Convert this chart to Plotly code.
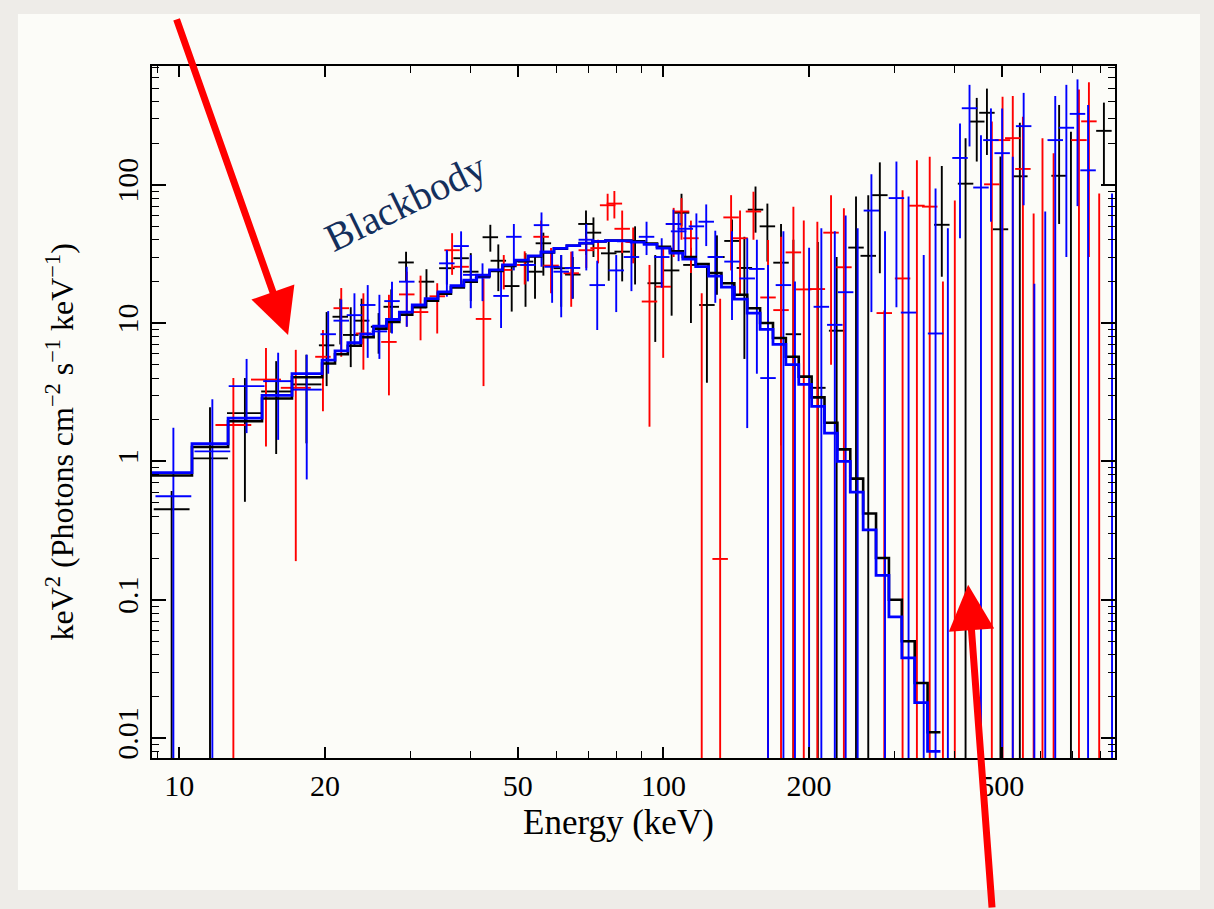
import plotly.graph_objects as go

OFF = 1e-4  # flux below the plotted range (points / error ends off-chart)

# ---------------- data: black instrument ----------------
black_E  = [9.64, 11.57, 13.66, 15.85, 18.3, 20.15, 21.5, 22.6, 23.8, 25.8, 27.4, 29.4, 32.4, 35.7, 38.2, 40.0,
            43.9, 45.6, 48.6, 51.9, 54.3, 56.5, 61.5, 65.0, 69.2, 71.7, 77.1, 82.2, 87.4, 96.2, 104, 109, 114,
            123, 129, 138.6, 147, 155, 164, 175, 185.6, 208.5, 228, 250, 265, 280, 376, 421, 444, 466, 497,
            545, 657, 695, 813]
black_F  = [0.45, 1.05, 2.23, 3.2, 3.6, 6.9, 11.1, 8.2, 10.4, 9.4, 13.1, 27.4, 19.9, 24.9, 29.4, 23.5,
            41.7, 28.2, 18.5, 27.8, 23.5, 37.7, 24.9, 22.4, 52, 45, 31.9, 32.8, 38.6, 19.4, 24, 62.7, 26.3,
            13.5, 30, 39.2, 25, 66, 50, 27.3, 8.3, 3.4, 8.8, 35.1, 30.6, 84, 51.3, 101.7, 286, 331, 47.6,
            115, 116, OFF, 245]
black_lo = [OFF, OFF, 0.51, 1.13, 1.35, 3.5, 7.0, 4.8, 7.0, 6.0, 8.5, 19.9, 12.8, 19.0, 18.0, 14.4,
            32.8, 17.0, 12.1, 13.1, 15.0, 22, 13.1, 15, 31, 30, 20.2, 20, 19, 7.3, 11.3, 50, 10,
            3.7, 16, 25, 5.5, 45, 27.8, 1.3, OFF, OFF, OFF, OFF, OFF, 22.9, 21.6, OFF, 147, 164, OFF,
            OFF, 52, OFF, 99.4]
black_hi = [0.61, 2.46, 4.0, 5.3, 5.9, 12.0, 15.0, 13.0, 15.0, 11.8, 17.5, 32.8, 24.5, 33.0, 35.0, 32.0,
            51.3, 37.0, 25.5, 32.0, 30.0, 45, 31, 30, 65, 58, 40, 38, 50, 31, 35, 86, 35,
            25.5, 43, 56, 42, 97, 73, 52, 40, 38.6, 30, 82, 84, 145, 136.5, 217, 424, 495, 160,
            280, 377, 241, 392]

# ---------------- data: red instrument ----------------
red_E  = [12.93, 15.1, 17.4, 19.8, 21.6, 24.0, 27.1, 29.5, 31.5, 34.1, 36.6, 38.2, 42.5, 46.8, 51.7, 55.9,
          58.6, 64.5, 69.3, 73.3, 76.7, 79.2, 82.2, 86.6, 93.6, 99.9, 105, 109, 114, 120, 131, 138, 144,
          153.5, 164.5, 175, 185.6, 195, 208, 222, 236, 286, 312, 334, 355, 378, 400, 477, 502, 527, 553,
          582, 607, 640, 722, 757, 795]
red_F  = [1.83, 3.9, 3.4, 5.7, 12.8, 8.4, 7.3, 16.1, 12.0, 15.6, 33.6, 25.5, 10.7, 24.2, 26.3, 42,
          26, 22.9, 33.6, 34.8, 71, 73, 48, 38.6, 14.3, 18.3, 52, 64, 41, OFF, 0.197, 58, 41,
          64, 15.3, 12.4, 32.4, 17.5, 17.6, 45, 25.3, 11.8, 21, 70.5, 69.4, OFF, OFF, 100.6, 210, 217, 130,
          OFF, OFF, OFF, 210, 287, OFF]
red_lo = [OFF, 1.28, 0.19, 2.3, 5.7, 4.6, 3.0, 9.4, 7.5, 8.4, 22.3, 18.8, 3.5, 17.5, 19.0, 30,
          16.4, 13.1, 25, 27, 55, 57, 32, 27, 1.78, 5.6, 30, 40, 23, OFF, OFF, 24, 16,
          40, OFF, OFF, OFF, OFF, OFF, 5.0, OFF, OFF, OFF, OFF, OFF, OFF, OFF, OFF, OFF, OFF, OFF,
          OFF, OFF, OFF, OFF, 30, OFF]
red_hi = [4.0, 6.6, 6.4, 8.9, 17.9, 16.4, 16.0, 23.5, 22.0, 19.4, 44.6, 35.0, 21.0, 31.0, 33.0, 55,
          34.8, 32.8, 42, 40, 86, 90, 65, 49, 26.3, 35.8, 68, 80, 55, 16.4, 15, 84, 65,
          89, 39.9, 42, 69.4, 55, 54, 84, 67.6, 12.3, 91, 150, 159, 20, 77, 286, 432, 437, 310,
          62, 217, 169, 488, 550, 86.5]

# ---------------- data: blue instrument ----------------
blue_E  = [9.72, 11.7, 13.77, 16.0, 18.33, 20.3, 21.6, 23.0, 24.5, 25.9, 27.5, 29.5, 35.7, 38.2, 40.0, 42.3,
           46.2, 49.1, 52.5, 56.0, 58.9, 61.5, 64.9, 69.3, 73.0, 79.9, 85.9, 92.3, 99.2, 104.9, 107.5, 111,
           117, 122.6, 128, 138.6, 149, 156, 164.5, 177, 187, 200, 212, 226, 238, 252, 269, 287, 303, 321,
           345, 365, 387, 410, 429, 453, 475, 501, 527, 555, 584, 615, 645, 680, 717, 754, 845]
blue_F  = [0.56, 1.18, 3.5, 3.8, 3.3, 8.3, 10.4, 11.4, 13.5, 8.7, 14.4, 19.9, 27, 36, 22.3, 21.3,
           15.7, 42, 26.3, 51, 25.5, 23.5, 25, 40, 18.8, 24, 30, 42, 30, 52, 46, 48,
           50, 54, 30, 27.8, 21, 24.6, 4.0, 18.8, OFF, OFF, 13.1, 9.7, 16.7, OFF, 65, OFF, 80, 11.9,
           OFF, 8.4, OFF, 156, 357, 95.4, 210, 169, OFF, 265, OFF, OFF, 210, 258, 325, 127, OFF]
blue_lo = [OFF, OFF, 1.6, 1.43, 0.74, 4.3, 6.2, 6.8, 5.6, 5.5, 8.4, 9.4, 15.5, 18.8, 12.8, 14.4,
           9.2, 24, 20, 25.5, 14, 11, 15, 24, 8.9, 12, 17, 31, 18, 32, 28, 30,
           26, 36, 14, 10.5, 1.74, 4.3, OFF, OFF, OFF, OFF, OFF, OFF, OFF, OFF, 12, OFF, 13, OFF,
           OFF, OFF, OFF, 41, 189, OFF, 54, OFF, OFF, 71, OFF, OFF, OFF, 30, 70, OFF, OFF]
blue_hi = [1.75, 2.81, 5.5, 6.1, 5.9, 12.2, 14.8, 16.4, 18.8, 16.0, 19.9, 25.5, 33.7, 46, 31, 27,
           23.5, 52, 31, 63, 33, 31, 33, 52, 28.2, 31, 39, 54, 41, 66, 62, 62,
           62, 72, 46.5, 46, 41, 40, 26.3, 46, 20, 35, 48.5, 46, 60, 48.5, 119, 46, 147, 82,
           31, 94, 48.5, 277, 527, 228, 356, 356, 159, 461, 19.2, 64, 437, 527, 577, 377, 86.5]

# ---------------- blackbody model (step histograms) ----------------
model_edges = [8.78, 10.62, 12.61, 14.82, 17.09,
               19.72, 20.97, 22.29, 23.70, 25.20, 26.79, 28.48, 30.28, 32.20, 34.23, 36.40, 38.70,
               41.14, 43.74, 46.51, 49.44, 52.57, 55.89, 59.42, 63.18, 67.17, 71.42, 75.93, 80.73,
               85.83, 91.26, 97.02, 103.16, 109.68, 116.61, 123.98, 131.81, 140.14, 149.00, 158.42,
               168.43, 179.07, 190.39, 202.42, 215.21, 228.82, 243.28, 258.65, 275.00, 292.38,
               310.86, 330.51, 351.39, 373.60]
model_blue = [0.83, 1.34, 2.05, 3.0, 4.3,
              5.4, 6.3, 7.2, 8.3, 9.5, 10.6, 12.0, 13.5, 15.0, 16.8, 18.6, 20.4, 22.2, 24.2, 26.3,
              28.5, 30.6, 32.6, 34.6, 36.3, 37.8, 38.9, 39.4, 39.2, 38.5, 37.0, 34.8, 32.0, 29.0,
              25.6, 21.8, 18.2, 14.9, 11.8, 9.0, 7.0, 5.0, 3.6, 2.5, 1.6, 1.0, 0.6, 0.32, 0.15,
              0.075, 0.038, 0.018, 0.008]
model_black = [0.79, 1.27, 1.95, 2.85, 4.05,
               5.1, 5.95, 6.85, 7.9, 9.1, 10.2, 11.5, 13.0, 14.5, 16.3, 18.1, 19.9, 21.8, 23.8, 25.9,
               28.1, 30.3, 32.4, 34.4, 36.2, 37.7, 38.9, 39.5, 39.5, 38.9, 37.6, 35.6, 33.0, 30.0,
               26.7, 23.0, 19.4, 16.0, 12.8, 10.0, 7.8, 5.7, 4.1, 2.9, 1.9, 1.22, 0.75, 0.42, 0.2,
               0.1, 0.05, 0.025, 0.011]

x_ticks = [10, 20, 50, 100, 200, 500]
y_ticks = [0.01, 0.1, 1, 10, 100]

SERIF = "Liberation Serif, Times New Roman, serif"


def bin_half(e):
    """half width (in dex) of the energy channel around energy e"""
    if e < 15:
        return 0.037
    if e < 19.5:
        return 0.031
    return 0.016


def crosses(E, F, lo, hi):
    xs, ys = [], []
    for e, f, l, h in zip(E, F, lo, hi):
        k = 10 ** bin_half(e)
        xs += [e / k, e * k, None, e, e, None]
        ys += [f, f, None, l, h, None]
    return xs, ys


fig = go.Figure()

for E, F, lo, hi, col in [(black_E, black_F, black_lo, black_hi, "#000000"),
                          (red_E, red_F, red_lo, red_hi, "#ff0000"),
                          (blue_E, blue_F, blue_lo, blue_hi, "#0000ff")]:
    xs, ys = crosses(E, F, lo, hi)
    fig.add_trace(go.Scatter(x=xs, y=ys, mode="lines", line=dict(color=col, width=1.9),
                             hoverinfo="skip", showlegend=False))

for vals, col, w in [(model_black, "#000000", 2.6), (model_blue, "#0000ff", 2.8)]:
    fig.add_trace(go.Scatter(x=model_edges, y=vals + [vals[-1]], mode="lines",
                             line=dict(color=col, width=w, shape="hv"),
                             hoverinfo="skip", showlegend=False))

x_minor = [9, 30, 40, 60, 70, 80, 90, 300, 400, 600, 700, 800]
y_minor = []
for dec in [0.001, 0.01, 0.1, 1, 10, 100]:
    for m in range(2, 10):
        v = m * dec
        if 0.007 < v < 730:
            y_minor.append(v)

axis_common = dict(showgrid=False, zeroline=False, showline=True, linecolor="black", linewidth=2,
                   mirror="allticks", ticks="inside", tickcolor="black", tickwidth=1.6)

fig.update_xaxes(type="log", range=[0.9435, 2.933], tickvals=x_ticks,
                 ticktext=[str(v) for v in x_ticks], ticklen=11,
                 tickfont=dict(family=SERIF, size=30, color="black"),
                 minor=dict(tickvals=x_minor, ticks="inside", ticklen=7, tickcolor="black", tickwidth=1.4),
                 **axis_common)
fig.update_yaxes(type="log", range=[-2.1445, 2.858], tickvals=y_ticks,
                 ticktext=["0.01", "0.1", "1", "10", "100"], ticklen=14, tickangle=-90,
                 tickfont=dict(family=SERIF, size=30, color="black"),
                 minor=dict(tickvals=y_minor, ticks="inside", ticklen=7, tickcolor="black", tickwidth=1.4),
                 **axis_common)

# axis titles
fig.add_annotation(xref="paper", yref="paper", x=0.484, y=-0.0925, xanchor="center", yanchor="middle",
                   text="Energy (keV)", showarrow=False, font=dict(family=SERIF, size=35, color="black"))
fig.add_annotation(xref="paper", yref="paper", x=-0.0955, y=0.456, xanchor="center", yanchor="middle",
                   text="keV<sup>2</sup> (Photons cm<sup>\u22122</sup> s<sup>\u22121</sup> keV<sup>\u22121</sup>)",
                   textangle=-90, showarrow=False, font=dict(family=SERIF, size=32, color="black"))

# label and arrows
fig.add_annotation(x=1.4663, y=1.868, xref="x", yref="y", text="Blackbody", showarrow=False,
                   textangle=-26, font=dict(family=SERIF, size=40, color="#142f5c"))
fig.add_annotation(x=1.2246, y=0.914, xref="x", yref="y", text="", showarrow=True,
                   arrowhead=2, arrowsize=1.3, arrowwidth=7, arrowcolor="#ff0000",
                   ax=-112, ay=-317, axref="pixel", ayref="pixel")
fig.add_annotation(x=2.6296, y=-0.892, xref="x", yref="y", text="", showarrow=True,
                   arrowhead=2, arrowsize=1.3, arrowwidth=7, arrowcolor="#ff0000",
                   ax=24, ay=340, axref="pixel", ayref="pixel")

# the slide card behind the chart
fig.add_shape(type="rect", xref="paper", yref="paper", x0=-0.1392, x1=1.0883, y0=-0.1908, y1=1.0751,
              fillcolor="#fcfcf8", line=dict(width=0), layer="below")

fig.update_layout(width=1214, height=909, margin=dict(l=152, r=99, t=66, b=151),
                  paper_bgcolor="#eeece8", plot_bgcolor="#fcfcf8", showlegend=False)

fig.write_html("out.html")
